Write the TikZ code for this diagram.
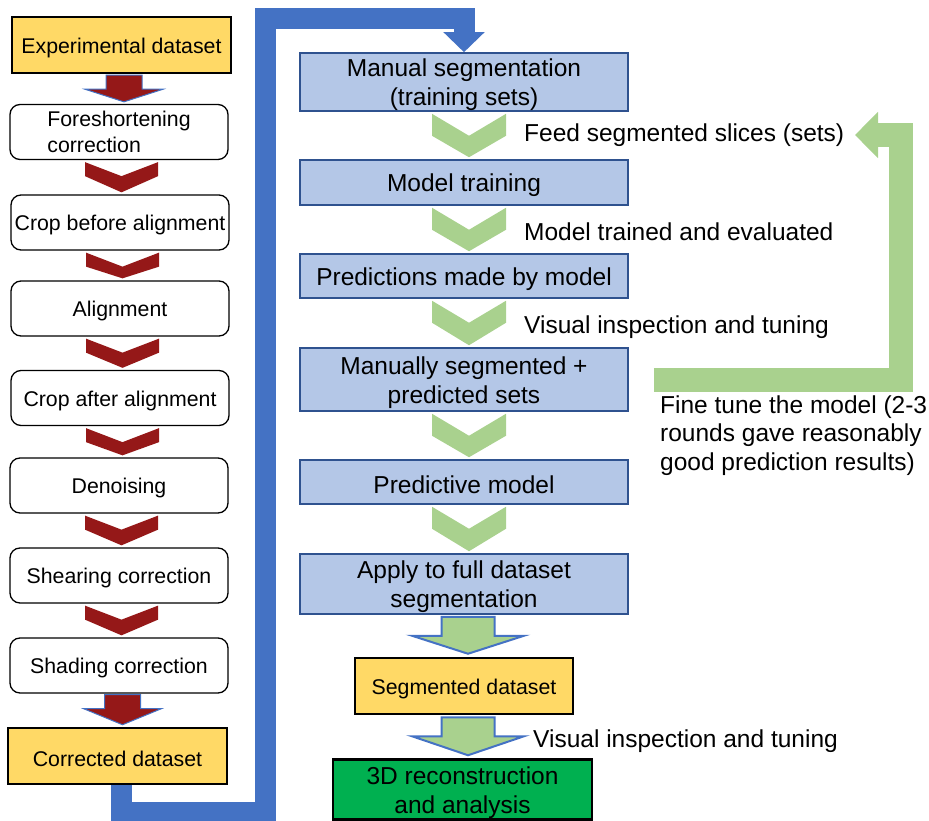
\documentclass[tikz,border=0pt]{standalone}
\usepackage{fontspec}
\setmainfont{Liberation Sans}
\usetikzlibrary{arrows.meta,calc}

\definecolor{dsyellow}{RGB}{255,217,102}
\definecolor{segblue}{RGB}{180,199,231}
\definecolor{segedge}{RGB}{47,82,143}
\definecolor{chevred}{RGB}{149,24,24}
\definecolor{arrblue}{RGB}{68,114,196}
\definecolor{lightgreen}{RGB}{169,209,142}
\definecolor{recgreen}{RGB}{0,176,80}
\newcommand{\lcolfont}{\fontsize{21.3}{26}\selectfont}
\newcommand{\mcolfont}{\fontsize{24.5}{29}\selectfont}
\newcommand{\tallrow}{\rule{0pt}{24pt}}

\begin{document}
\begin{tikzpicture}[x=1pt,y=-1pt,
  dataset/.style={draw,line width=2.5pt,fill=dsyellow,minimum width=219pt,minimum height=56pt,font=\lcolfont,
    execute at begin node={\rule{0pt}{20.5pt}}},
  prep/.style={draw,line width=1.3pt,rounded corners=10pt,fill=white,minimum width=218pt,minimum height=55pt,align=left,font=\lcolfont,
    execute at begin node={\rule{0pt}{20.5pt}}},
  seg/.style={draw=segedge,line width=1.5pt,fill=segblue,minimum width=328pt,inner ysep=0pt,align=center,font=\mcolfont,
    execute at begin node={\rule{0pt}{23.5pt}}},
  lbl/.style={anchor=west,inner sep=0pt,align=left,font=\fontsize{24.5}{28.5}\selectfont},
  redchev/.style={fill=chevred,to path={let \p1=(\tikztostart),\p2=(\tikztotarget) in
    (\x1-36.5pt,\y1-2pt) -- (\x1,\y1-16pt) -- (\x1+36.5pt,\y1-2pt) -- (\x1+36.5pt,\y1-16pt)
    -- (\x1,\y2+2pt) -- (\x1-36.5pt,\y1-16pt) -- cycle}},
  greenchev/.style={fill=lightgreen,to path={let \p1=(\tikztostart),\p2=(\tikztotarget) in
    (\x1-37pt,\y1-2pt) -- (\x1,\y1-24pt) -- (\x1+37pt,\y1-2pt) -- (\x1+37pt,\y1-24pt)
    -- (\x1,\y2+2pt) -- (\x1-37pt,\y1-24pt) -- cycle}},
  redblock/.style={fill=chevred,draw=arrblue,line width=1pt,to path={let \p1=(\tikztostart),\p2=(\tikztotarget) in
    (\x1-18pt,\y1-1pt) -- (\x1-18pt,\y1-15pt) -- (\x1-39pt,\y1-15pt) -- (\x1,\y2+2pt)
    -- (\x1+39pt,\y1-15pt) -- (\x1+18pt,\y1-15pt) -- (\x1+18pt,\y1-1pt) -- cycle}},
  greenblock/.style={fill=lightgreen,draw=arrblue,line width=2pt,to path={let \p1=(\tikztostart),\p2=(\tikztotarget) in
    (\x1-26.5pt,\y1-2pt) -- (\x1-26.5pt,\y1-21pt) -- (\x1-56pt,\y1-21pt) -- (\x1,\y2+3pt)
    -- (\x1+56pt,\y1-21pt) -- (\x1+26.5pt,\y1-21pt) -- (\x1+26.5pt,\y1-2pt) -- cycle}},
  bigblue/.style={draw=arrblue,line width=21pt,line join=miter,-{Triangle[width=40pt,length=20pt]}},
  fbgreen/.style={draw=lightgreen,line width=24pt,line join=miter,-{Triangle[width=45pt,length=23pt]}}]

  \useasboundingbox (0,0) rectangle (929,821);

  \node[dataset] (expdata) at (121.5,45) {Experimental dataset};
  \node[prep] (foreshort) at (119,132) {Foreshortening\\correction};
  \node[prep] (cropbefore) at (120,222.5) {Crop before alignment};
  \node[prep] (align) at (120,308.5) {Alignment};
  \node[prep] (cropafter) at (120,398) {Crop after alignment};
  \node[prep] (denoise) at (119,485.5) {Denoising};
  \node[prep] (shear) at (119,575.5) {Shearing correction};
  \node[prep] (shading) at (119,665.5) {Shading correction};
  \node[dataset] (corrected) at (117.5,756) {Corrected dataset};

  \node[seg,minimum height=58pt] (manseg) at (464,82) {\tallrow Manual segmentation\\(training sets)};
  \node[seg,minimum height=45pt] (training) at (464,182.5) {Model training};
  \node[seg,minimum height=44pt] (predictions) at (464,276) {Predictions made by model};
  \node[seg,minimum height=63pt] (manpred) at (464,379.5) {\tallrow Manually segmented +\\predicted sets};
  \node[seg,minimum height=44pt] (predmodel) at (464,482) {Predictive model};
  \node[seg,minimum height=60pt] (apply) at (464,584) {\tallrow Apply to full dataset\\segmentation};
  \node[dataset,minimum width=218pt] (segdata) at (464,686) {Segmented dataset};
  \node[dataset,fill=recgreen,minimum width=259pt,minimum height=60pt,inner ysep=0pt,align=center,font=\mcolfont] (recon) at (462.5,789.5) {\tallrow 3D reconstruction\\and analysis};

  \node[lbl] (feedlbl) at (524,135) {Feed segmented slices (sets)};
  \node[lbl] (trainlbl) at (524,231.5) {Model trained and evaluated};
  \node[lbl] (vislbl) at (524,327) {Visual inspection and tuning};
  \node[lbl] (tunelbl) at (660,435.5) {Fine tune the model (2-3\\rounds gave reasonably\\good prediction results)};
  \node[lbl] (vislbl2) at (533,741) {Visual inspection and tuning};

  \path[redblock] ([xshift=2.5pt]expdata.south) to (foreshort.north);
  \foreach \a/\b in {foreshort/cropbefore,cropbefore/align,align/cropafter,cropafter/denoise,denoise/shear,shear/shading}
    \path[redchev] ([xshift=2.5pt]\a.south) to (\b.north);
  \path[redblock] ([xshift=3.5pt]shading.south) to (corrected.north);

  \foreach \a/\b in {manseg/training,training/predictions,predictions/manpred,manpred/predmodel,predmodel/apply}
    \path[greenchev] ([xshift=5pt]\a.south) to (\b.north);
  \path[greenblock] ([xshift=4pt]apply.south) to (segdata.north);
  \path[greenblock] ([xshift=4pt]segdata.south) to (recon.north);

  \coordinate (loopdown) at (265.5,812);
  \coordinate (loopup) at (265.5,18.5);
  \draw[bigblue] ([xshift=3.5pt]corrected.south) |- (loopdown) -- (loopup) -| (manseg.north);

  \coordinate (fbturn) at (901,135);
  \coordinate (fbtip) at (855,135);
  \draw[fbgreen] ([xshift=25pt]manpred.east) -| (fbturn) -- (fbtip);
\end{tikzpicture}
\end{document}
